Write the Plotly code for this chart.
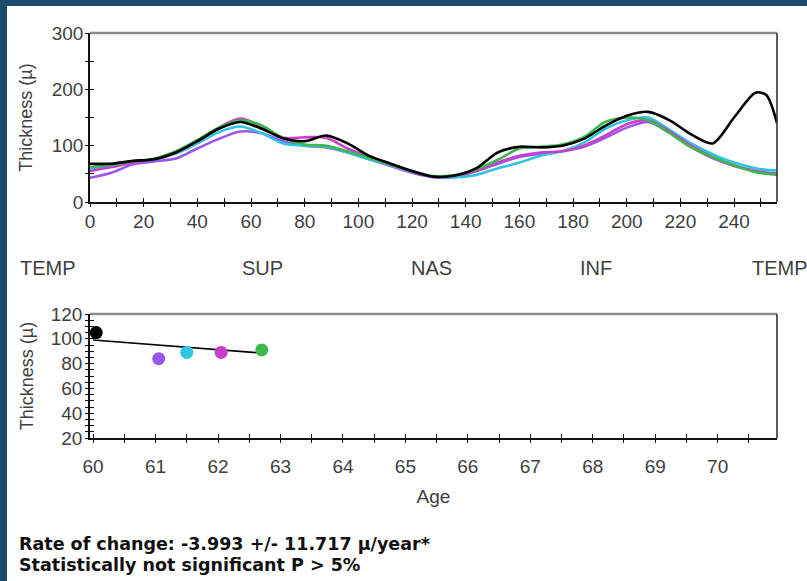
import plotly.graph_objects as go

# ---------------- data ----------------
positions = [0, 8, 16, 24, 32, 40, 48, 56, 64, 72, 80, 88, 96, 104, 112, 120, 128,
             136, 144, 152, 160, 168, 176, 184, 192, 200, 208, 216, 224, 232, 240, 248, 252, 256]

thk_black = [68, 68, 73, 76, 88, 108, 130, 142, 130, 113, 108, 118, 104, 82, 68, 55, 45,
             47, 60, 88, 98, 97, 100, 112, 135, 153, 160, 145, 120, 104, 150, 194, 190, 140]
thk_purple = [43, 52, 67, 72, 77, 95, 112, 125, 122, 108, 100, 97, 88, 76, 64, 52, 44,
              44, 55, 68, 80, 86, 90, 98, 114, 132, 142, 123, 98, 78, 64, 55, 52, 50]
thk_cyan = [60, 64, 72, 76, 86, 104, 124, 134, 122, 104, 100, 98, 88, 76, 66, 54, 45,
            44, 48, 60, 70, 82, 90, 105, 130, 145, 150, 128, 104, 85, 70, 60, 57, 56]
thk_magenta = [55, 62, 70, 76, 88, 108, 132, 148, 134, 114, 115, 114, 95, 80, 68, 54, 45,
               47, 55, 70, 82, 88, 90, 100, 118, 138, 145, 125, 100, 80, 65, 55, 52, 50]
thk_green = [62, 66, 72, 77, 90, 110, 132, 145, 136, 113, 102, 100, 90, 78, 67, 55, 46,
             48, 58, 75, 95, 98, 102, 115, 142, 150, 145, 122, 97, 80, 65, 53, 50, 48]

exam_ages = [60.05, 61.05, 61.5, 62.05, 62.7]
exam_mean_thk = [105, 84, 89, 89, 91]
trend_ages = [60.0, 62.7]
trend_thk = [99, 88.5]

pos_tickvals = list(range(0, 251, 10))
pos_ticklabels = ["0", "20", "40", "60", "80", "100", "120", "140", "160", "180", "200", "220", "240"]
thk_tickvals = [0, 50, 100, 150, 200, 250, 300]
thk_ticklabels = ["0", "", "100", "", "200", "", "300"]
age_tickvals = [60 + 0.5 * i for i in range(22)]
age_ticklabels = ["60", "61", "62", "63", "64", "65", "66", "67", "68", "69", "70"]
trend_thk_tickvals = list(range(20, 121, 5))
trend_thk_ticklabels = ["20", "40", "60", "80", "100", "120"]
sector_labels = ["TEMP", "SUP", "NAS", "INF", "TEMP"]

series_colors = ["#000000", "#9b55ee", "#2ec4e4", "#c93fcc", "#3cb84c"]

# ---------------- figure ----------------
W, H = 807, 581
def px(x):
    return x / W
def py(y):
    return 1 - y / H

FONT = "Liberation Sans, Arial, sans-serif"
TXT = "#404040"
TICKFONT = dict(family=FONT, size=19, color=TXT)

fig = go.Figure()

series = [thk_black, thk_purple, thk_cyan, thk_magenta, thk_green]
order = [1, 2, 3, 4, 0]
for i in order:
    fig.add_trace(go.Scatter(x=positions, y=series[i], mode="lines",
                             line=dict(color=series_colors[i], width=2.6, shape="spline", smoothing=0.8),
                             xaxis="x", yaxis="y", showlegend=False, hoverinfo="skip"))

fig.add_trace(go.Scatter(x=trend_ages, y=trend_thk, mode="lines",
                         line=dict(color="#000000", width=1.6),
                         xaxis="x2", yaxis="y2", showlegend=False))
fig.add_trace(go.Scatter(x=exam_ages, y=exam_mean_thk, mode="markers",
                         marker=dict(color=series_colors, size=13),
                         xaxis="x2", yaxis="y2", showlegend=False, cliponaxis=False))

top_dom_x = [px(90), px(777)]
top_dom_y = [py(202), py(33)]
bot_dom_x = [px(90), px(777)]
bot_dom_y = [py(438), py(314)]

pos_text = [str(v) if str(v) in pos_ticklabels else "" for v in pos_tickvals]
age_text = []
for v in age_tickvals:
    s = str(int(v)) if float(v).is_integer() else ""
    age_text.append(s if s in age_ticklabels else "")
tt_text = [str(v) if str(v) in trend_thk_ticklabels else "" for v in trend_thk_tickvals]

axis_common = dict(showgrid=False, zeroline=False, showline=True, linecolor="#111111",
                   linewidth=1.6, ticks="inside", ticklen=4, tickwidth=1.4, tickcolor="#111111",
                   tickfont=TICKFONT, fixedrange=True, automargin=False)
outer_common = dict(showgrid=False, zeroline=False, showline=False, ticks="outside", ticklen=4,
                    tickwidth=1.4, tickcolor="#111111", showticklabels=False, fixedrange=True,
                    automargin=False)

fig.update_layout(
    width=W, height=H, margin=dict(l=0, r=0, t=0, b=0, autoexpand=False),
    paper_bgcolor="white", plot_bgcolor="white",
    xaxis=dict(domain=top_dom_x, anchor="y", range=[0, 256], tickmode="array",
               tickvals=pos_tickvals, ticktext=pos_text, ticklabelstandoff=1, **axis_common),
    yaxis=dict(domain=top_dom_y, anchor="x", range=[0, 300], tickmode="array",
               tickvals=thk_tickvals, ticktext=thk_ticklabels, ticklabelstandoff=1,
               title=dict(text="Thickness (µ)", font=dict(family=FONT, size=18, color=TXT), standoff=14),
               **axis_common),
    xaxis3=dict(overlaying="x", anchor="y", range=[0, 256], tickmode="array",
                tickvals=pos_tickvals, **outer_common),
    yaxis3=dict(overlaying="y", anchor="x", range=[0, 300], tickmode="array",
                tickvals=thk_tickvals, **outer_common),
    xaxis2=dict(domain=bot_dom_x, anchor="y2", range=[59.95, 70.95], tickmode="array",
                tickvals=age_tickvals, ticktext=age_text, ticklabelstandoff=10,
                title=dict(text="Age", font=dict(family=FONT, size=19, color=TXT), standoff=14),
                **axis_common),
    yaxis2=dict(domain=bot_dom_y, anchor="x2", range=[20, 120], tickmode="array",
                tickvals=trend_thk_tickvals, ticktext=tt_text, ticklabelstandoff=2,
                title=dict(text="Thickness (µ)", font=dict(family=FONT, size=18, color=TXT), standoff=12),
                **axis_common),
    xaxis4=dict(overlaying="x2", anchor="y2", range=[59.95, 70.95], tickmode="array",
                tickvals=age_tickvals, **outer_common),
    yaxis4=dict(overlaying="y2", anchor="x2", range=[20, 120], tickmode="array",
                tickvals=trend_thk_tickvals, **outer_common),
)

# dummy traces so overlay axes are drawn
fig.add_trace(go.Scatter(x=[None], y=[None], xaxis="x3", yaxis="y3", showlegend=False))
fig.add_trace(go.Scatter(x=[None], y=[None], xaxis="x4", yaxis="y4", showlegend=False))

shapes = []
# frame (dark blue)
shapes.append(dict(type="rect", xref="paper", yref="paper", x0=0, x1=px(7), y0=0, y1=1,
                   fillcolor="#1b4b6b", line=dict(width=0), layer="above"))
shapes.append(dict(type="rect", xref="paper", yref="paper", x0=0, x1=1, y0=py(6), y1=1,
                   fillcolor="#1b4b6b", line=dict(width=0), layer="above"))
# plot box top (gray) and right (dark) edges
for dx, dy in [(top_dom_x, top_dom_y), (bot_dom_x, bot_dom_y)]:
    shapes.append(dict(type="line", xref="paper", yref="paper", x0=dx[0], x1=dx[1], y0=dy[1], y1=dy[1],
                       line=dict(color="#8a8a8a", width=2.5)))
    shapes.append(dict(type="line", xref="paper", yref="paper", x0=dx[1], x1=dx[1], y0=dy[0], y1=dy[1],
                       line=dict(color="#333333", width=1.6)))
fig.update_layout(shapes=shapes)

annotations = []
sector_x = [18, 262, 432, 596, 780]
for i, (lab, xx) in enumerate(zip(sector_labels, sector_x)):
    annotations.append(dict(text=lab, xref="paper", yref="paper", x=px(xx), y=py(268),
                            xanchor="left" if i == 0 else "center", yanchor="middle", showarrow=False,
                            font=dict(family=FONT, size=20, color=TXT)))
BOLD = "DejaVu Sans, sans-serif"
annotations.append(dict(text="<b>Rate of change: -3.993 +/- 11.717 µ/year*</b>", xref="paper", yref="paper",
                        x=px(17), y=py(544), xanchor="left", yanchor="middle", showarrow=False,
                        font=dict(family=BOLD, size=17.5, color="#111111")))
annotations.append(dict(text="<b>Statistically not significant P > 5%</b>", xref="paper", yref="paper",
                        x=px(17), y=py(565), xanchor="left", yanchor="middle", showarrow=False,
                        font=dict(family=BOLD, size=17.5, color="#111111")))
fig.update_layout(annotations=annotations)

fig.write_html("out.html")
